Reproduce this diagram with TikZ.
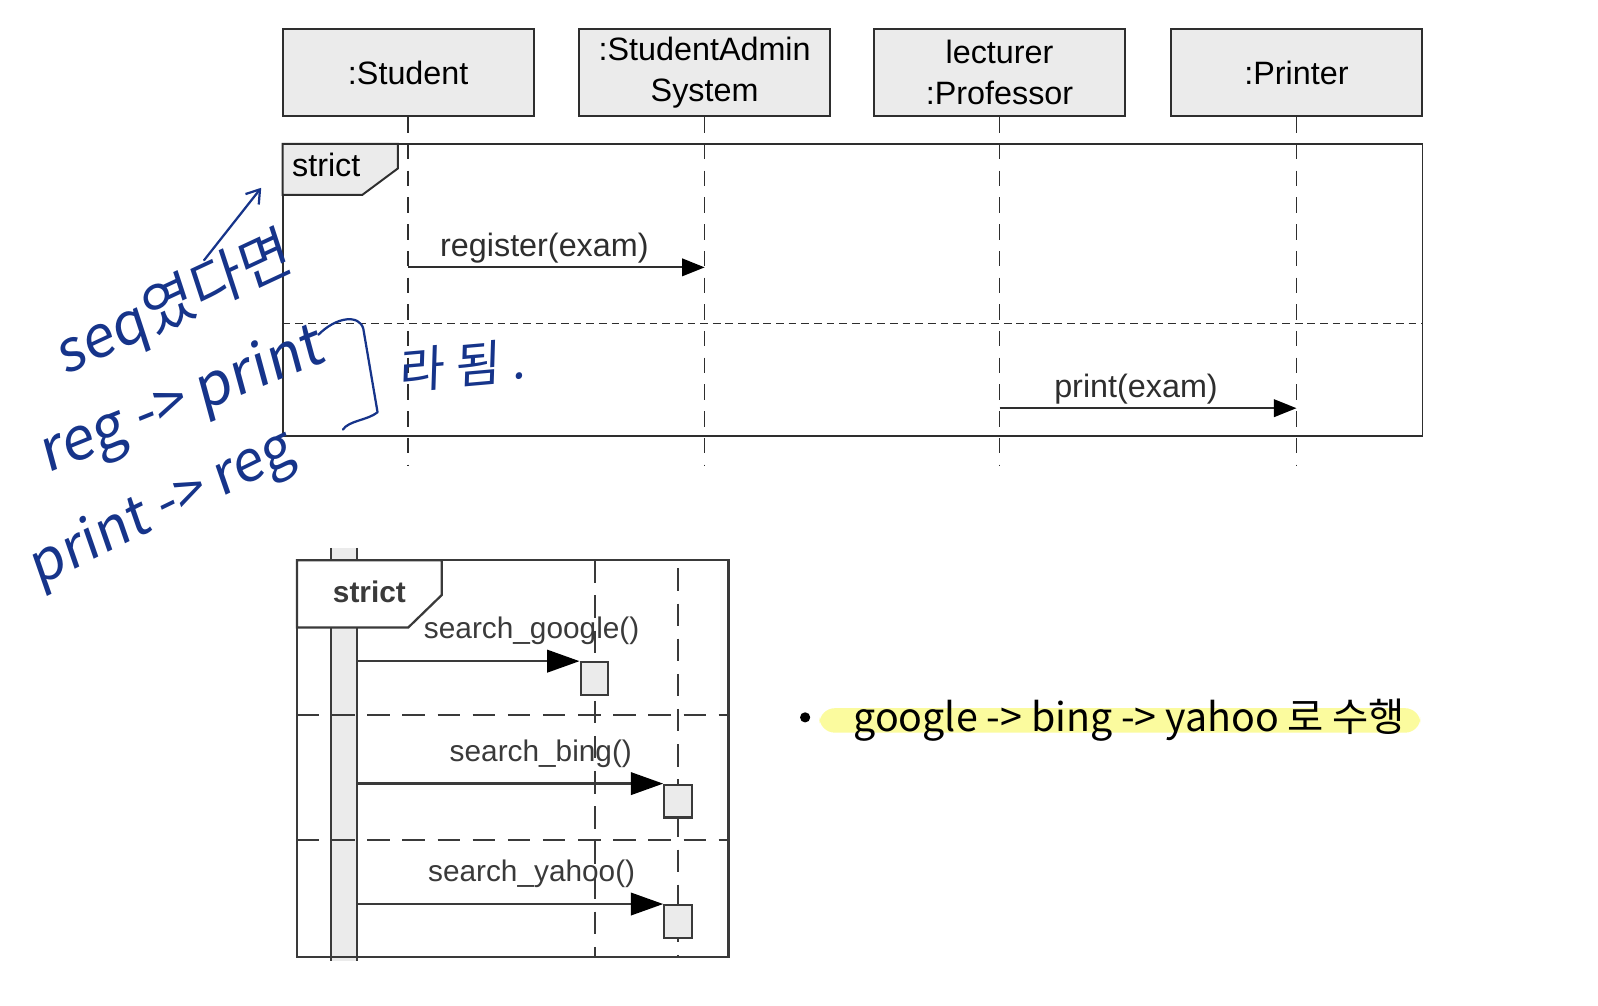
\documentclass[tikz,border=0pt]{standalone}
\usepackage{fontspec}
\setmainfont{Liberation Sans}
\newfontfamily\kr{Noto Sans CJK KR}
\newfontfamily\hand[FakeSlant=0.12]{Noto Sans CJK KR}
\usetikzlibrary{arrows.meta}
\definecolor{boxgray}{HTML}{EBEBEB}
\definecolor{linegray}{HTML}{2E2E2E}
\definecolor{shotgray}{HTML}{3A3A3A}
\definecolor{pen}{RGB}{22,52,138}
\definecolor{marker}{HTML}{FBFB9E}
\tikzset{
	objbox/.style={draw=linegray,line width=1.4pt,fill=boxgray,minimum width=6.275cm,
		minimum height=2.194cm,inner sep=0pt,align=center,font=\fontsize{23}{29}\selectfont},
	lifeline/.style={linegray,line width=1.1pt,dash pattern=on 11pt off 8pt},
	msg/.style={linegray,line width=1.3pt,-{Triangle[length=16pt,width=12.5pt,color=black]}},
	msglabel/.style={font=\fontsize{23}{27}\selectfont,inner sep=2pt,xshift=-0.3cm},
	frame/.style={draw=linegray,line width=1.4pt},
	call/.style={shotgray,line width=1.6pt,-{Triangle[length=23pt,width=16pt,color=black]}},
	calllabel/.style={shotgray,font=\fontsize{21.2}{25}\selectfont,anchor=base},
	actbox/.style={draw=shotgray,line width=1.6pt,fill=boxgray,minimum width=0.689cm,
		minimum height=0.816cm,inner sep=0pt},
	handtext/.style={pen,font=\hand\fontsize{#1}{#1}\selectfont,inner sep=0pt},
	handline/.style={pen,line width=1.6pt,line cap=round,line join=round}
}
\begin{document}
\begin{tikzpicture}[x=0.02551cm,y=-0.02551cm]
	\useasboundingbox (0,0) rectangle (1566,985);
	% strict, first example
	\def\bot{456}
	\node[objbox] (stu) at (400,71) {:Student};
	\node[objbox] (adm) at (690.5,71) {:StudentAdmin\\System};
	\node[objbox] (prof) at (979.5,71) {lecturer\\:Professor};
	\node[objbox] (prn) at (1270.5,71) {:Printer};
	\draw[frame] (277,141) rectangle (1394,427);
	\draw[frame,fill=boxgray] (277,141) -- (390,141) -- (390,165) -- (355,191) -- (277,191) -- cycle;
	\node[font=\fontsize{23}{27}\selectfont,anchor=base west,inner sep=0pt] (tag) at (286,173) {strict};
	\foreach \o in {stu,adm,prof,prn}
	\draw[lifeline] (\o.south) -- (\o.south |- 0,\bot);
	\draw[linegray,line width=1.1pt,dash pattern=on 5.5pt off 3.5pt] (277,317) -- (1394,317);
	\draw[msg] (stu.south |- 0,262) -- node[above,msglabel] (reg) {register(exam)} (adm.south |- 0,262);
	\draw[msg] (prof.south |- 0,400) -- node[above,msglabel] (prt) {print(exam)} (prn.south |- 0,400);
	% strict, second example
	\fill[boxgray] (324,537) rectangle (350,942);
	\draw[shotgray,line width=1.6pt] (324,537) -- (324,942) (350,537) -- (350,942);
	\coordinate (bar) at (350,0);
	\draw[shotgray,line width=1.6pt] (291,549) rectangle (714,938);
	\draw[shotgray,line width=1.6pt,fill=white] (291,549) -- (433,549) -- (433,583) -- (400,615) -- (291,615) -- cycle;
	\node[shotgray,font=\bfseries\fontsize{21.2}{25}\selectfont,anchor=base] (tag2) at (362,590) {strict};
	\draw[shotgray,line width=1.6pt,dash pattern=on 16pt off 9pt] (291,701) -- (714,701) (291,823) -- (714,823);
	\draw[shotgray,line width=1.4pt,dash pattern=on 16pt off 9pt] (583,549) -- (583,938);
	\draw[shotgray,line width=1.4pt,dash pattern=on 16pt off 9pt] (664,557) -- (664,938);
	\node[actbox] (goo) at (582.5,665) {};
	\node[actbox] (bing) at (664.5,785) {};
	\node[actbox] (yah) at (664.5,903) {};
	\draw[call] (bar |- goo.north west) -- (goo.north west);
	\draw[call] (bar |- bing.north west) -- (bing.north west);
	\draw[call] (bar |- yah.north west) -- (yah.north west);
	\node[calllabel] (l1) at (521,626) {search\_google()};
	\node[calllabel] (l2) at (530,746) {search\_bing()};
	\node[calllabel] (l3) at (521,864) {search\_yahoo()};
	% note
	\fill[marker,rounded corners=11pt] (803,694) rectangle (1392,718);
	\fill (789,703) circle (5);
	\node[font=\kr\fontsize{28}{32}\selectfont,anchor=base west,inner sep=0pt] (note) at (836,717)
	{google -> bing -> yahoo 로 수행};
	% handwriting
	\node[handtext=41,rotate=25] (h1) at (170,300) {seq였다면};
	\node[handtext=42,rotate=22] (h2) at (178,395) {reg -> print};
	\node[handtext=40,rotate=26] (h3) at (158,500) {print -> reg};
	\node[handtext=35,rotate=5] (h4) at (452,358) {라 됨 .};
	\coordinate (up0) at (200,255);
	\coordinate (up1) at (256,184);
	\draw[handline,-{Straight Barb[length=9pt,width=12pt]}] (up0) -- (up1);
	\coordinate (br0) at (312,328);
	\coordinate (br1) at (336,421);
	\draw[handline] (br0) .. controls (330,310) and (352,308) .. (356,322) -- (370,404) .. controls (360,412) and (342,412) .. (br1);
\end{tikzpicture}
\end{document}
